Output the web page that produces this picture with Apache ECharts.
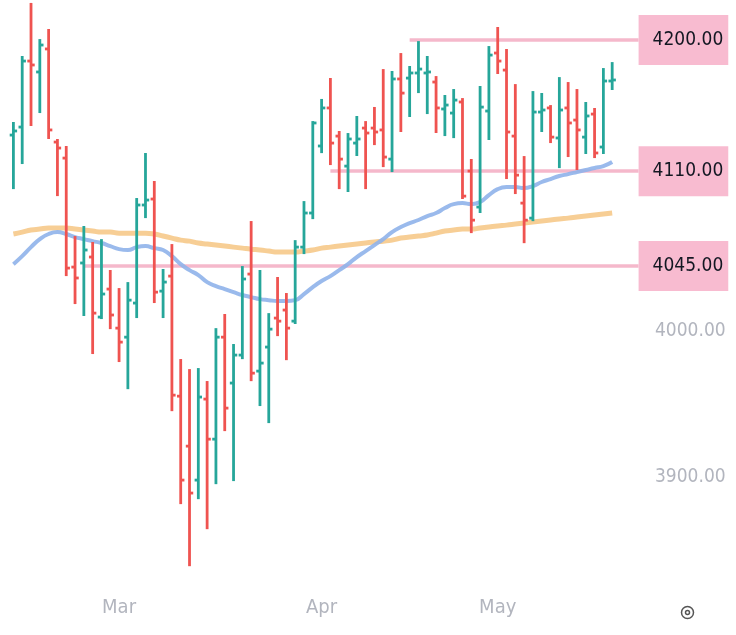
<!DOCTYPE html>
<html>
<head>
<meta charset="utf-8">
<script src="https://cdn.jsdelivr.net/npm/echarts@6/dist/echarts.min.js"></script>
<style>
  html, body { margin: 0; padding: 0; background: #fff; }
  #chart { width: 736px; height: 635px; }
</style>
</head>
<body>
<div id="chart"></div>
<script>
// trading days (last three are empty space on the right)
var dates = [
    '2023-02-10', '2023-02-13', '2023-02-14', '2023-02-15', '2023-02-16', '2023-02-17',
    '2023-02-21', '2023-02-22', '2023-02-23', '2023-02-24', '2023-02-27', '2023-02-28',
    '2023-03-01', '2023-03-02', '2023-03-03', '2023-03-06', '2023-03-07', '2023-03-08',
    '2023-03-09', '2023-03-10', '2023-03-13', '2023-03-14', '2023-03-15', '2023-03-16',
    '2023-03-17', '2023-03-20', '2023-03-21', '2023-03-22', '2023-03-23', '2023-03-24',
    '2023-03-27', '2023-03-28', '2023-03-29', '2023-03-30', '2023-03-31',
    '2023-04-03', '2023-04-04', '2023-04-05', '2023-04-06', '2023-04-07', '2023-04-10',
    '2023-04-11', '2023-04-12', '2023-04-13', '2023-04-14', '2023-04-17', '2023-04-18',
    '2023-04-19', '2023-04-20', '2023-04-21', '2023-04-24', '2023-04-25', '2023-04-26',
    '2023-04-27', '2023-04-28',
    '2023-05-01', '2023-05-02', '2023-05-03', '2023-05-04', '2023-05-05', '2023-05-08',
    '2023-05-09', '2023-05-10', '2023-05-11', '2023-05-12', '2023-05-15', '2023-05-16',
    '2023-05-17', '2023-05-18',
    '2023-05-19', '2023-05-22', '2023-05-23'
];

var opens = [
    4134.8, 4140.3, 4185.6, 4178.1, 4193.9, 4130.0, 4119.0, 4044.2, 4047.0, 4051.1,
    4009.9, 4029.1, 4002.3, 3996.1, 4019.5, 4086.8, 4090.9, 4027.7, 4038.0, 3955.6,
    3921.3, 3898.0, 3953.6, 3926.1, 3996.1, 3964.6, 3983.8, 4039.4, 3972.8, 3989.3,
    4009.2, 4014.7, 4007.1, 4057.9, 4081.3, 4127.3, 4153.4, 4134.1, 4113.5, 4129.3,
    4139.6, 4139.6, 4138.3, 4118.3, 4173.3, 4173.9, 4177.4, 4177.4, 4171.2, 4152.7,
    4149.9, 4157.5, 4110.1, 4085.4, 4151.3, 4191.1, 4179.4, 4134.1, 4088.1, 4077.8,
    4150.6, 4153.4, 4132.8, 4153.4, 4145.1, 4133.4, 4149.2, 4126.6, 4171.9
];
var closes = [
    4137.6, 4185.6, 4182.9, 4196.6, 4138.3, 4125.9, 4043.5, 4036.7, 4055.9, 4012.6,
    4025.7, 4011.3, 3992.7, 4021.5, 4086.8, 4090.2, 4027.0, 4033.9, 3956.3, 3898.0,
    3889.1, 3955.0, 3926.1, 3996.1, 3947.4, 3983.8, 4036.0, 3971.4, 3978.3, 4001.6,
    4007.1, 4002.3, 4057.9, 4081.3, 4143.1, 4153.4, 4129.3, 4118.3, 4132.1, 4132.1,
    4136.2, 4136.9, 4119.7, 4173.3, 4163.6, 4177.4, 4180.1, 4178.1, 4153.4, 4155.4,
    4158.8, 4092.9, 4076.4, 4154.0, 4189.7, 4185.6, 4136.9, 4107.3, 4076.4, 4150.6,
    4152.0, 4133.4, 4152.0, 4143.1, 4138.3, 4147.9, 4122.5, 4171.9, 4172.6
];
var lows = [
    4098.4, 4115.6, 4141.7, 4150.6, 4132.8, 4093.6, 4038.7, 4019.5, 4011.3, 3985.2,
    4009.2, 4002.3, 3979.7, 3961.1, 4009.9, 4078.5, 4020.2, 4009.9, 3946.0, 3882.2,
    3839.6, 3885.6, 3865.0, 3895.9, 3932.3, 3898.0, 3981.7, 3966.6, 3949.5, 3937.8,
    3997.5, 3981.0, 4005.8, 4053.8, 4077.8, 4123.1, 4114.9, 4098.4, 4096.4, 4121.1,
    4098.4, 4128.6, 4113.5, 4110.1, 4137.6, 4147.9, 4164.3, 4149.9, 4136.9, 4134.8,
    4133.4, 4091.6, 4068.2, 4082.0, 4132.1, 4177.4, 4105.3, 4095.0, 4061.3, 4076.4,
    4137.6, 4130.0, 4112.8, 4120.4, 4111.5, 4122.5, 4119.7, 4122.5, 4166.4
];
var highs = [
    4143.1, 4188.4, 4224.8, 4200.0, 4206.9, 4131.4, 4126.6, 4064.8, 4071.7, 4060.7,
    4062.7, 4041.5, 4029.1, 4033.2, 4090.9, 4121.8, 4102.6, 4042.2, 4059.3, 3980.4,
    3973.5, 3974.2, 3965.3, 4001.6, 4011.3, 3990.7, 4044.2, 4075.1, 4041.5, 4011.9,
    4036.7, 4025.7, 4062.0, 4088.8, 4143.7, 4158.9, 4173.3, 4136.9, 4135.5, 4147.2,
    4143.7, 4153.4, 4179.4, 4178.1, 4190.4, 4181.5, 4198.6, 4188.4, 4174.6, 4161.6,
    4165.7, 4159.5, 4117.7, 4167.8, 4195.2, 4208.3, 4193.2, 4169.1, 4119.7, 4164.3,
    4163.0, 4154.7, 4173.9, 4170.5, 4165.7, 4156.8, 4152.7, 4180.1, 4184.2
];

// moving averages as drawn on the chart
var maFast = [
    4046.2, 4051.7, 4057.9, 4063.4, 4066.9, 4068.2, 4066.9, 4064.8, 4063.4, 4062.0,
    4060.7, 4058.6, 4056.5, 4055.9, 4057.9, 4058.6, 4057.2, 4055.9, 4051.7, 4046.2,
    4042.1, 4038.7, 4033.9, 4031.1, 4029.1, 4027.0, 4025.0, 4023.6, 4022.2, 4021.5,
    4020.9, 4020.9, 4021.5, 4025.7, 4030.4, 4034.6, 4038.0, 4042.1, 4046.2, 4051.1,
    4055.2, 4059.3, 4063.4, 4068.2, 4071.7, 4074.4, 4076.5, 4079.2, 4081.3, 4084.7,
    4087.4, 4088.1, 4087.4, 4088.8, 4093.6, 4097.7, 4099.1, 4099.1, 4098.4, 4099.8,
    4102.6, 4104.6, 4106.7, 4108.0, 4109.4, 4110.8, 4112.2, 4113.5, 4116.3
];
var maSlow = [
    4066.9, 4068.2, 4069.6, 4070.3, 4071.0, 4071.0, 4071.0, 4070.3, 4069.6, 4068.9,
    4068.2, 4068.2, 4067.5, 4067.5, 4067.5, 4067.5, 4066.9, 4065.5, 4064.1, 4062.7,
    4062.0, 4060.7, 4060.0, 4059.3, 4058.6, 4057.9, 4057.2, 4056.5, 4055.9, 4055.2,
    4054.5, 4054.5, 4054.5, 4055.2, 4055.9, 4057.2, 4057.9, 4058.6, 4059.3, 4060.0,
    4060.7, 4061.4, 4062.0, 4062.7, 4064.1, 4064.8, 4065.5, 4066.2, 4067.5, 4068.9,
    4069.6, 4070.3, 4070.3, 4071.0, 4071.7, 4072.4, 4073.0, 4073.7, 4074.4, 4075.1,
    4075.8, 4076.5, 4077.2, 4077.8, 4078.5, 4079.2, 4079.9, 4080.6, 4081.3
];

// horizontal levels and the bar where each one starts
var levels = [4200, 4110, 4045];
var levelStart = [45, 36, 8];

var monthNames = ['Jan', 'Feb', 'Mar', 'Apr', 'May', 'Jun', 'Jul', 'Aug', 'Sep', 'Oct', 'Nov', 'Dec'];

var upColor = '#26a69a';
var downColor = '#ef5350';
var fontName = "'DejaVu Sans Condensed', 'Liberation Sans Narrow', sans-serif";

var ohlcData = [];
for (var i = 0; i < opens.length; i++) {
    ohlcData.push([i, opens[i], closes[i], lows[i], highs[i]]);
}

var levelLines = levels.map(function (v, k) {
    return [
        { name: v.toFixed(2), coord: [dates[levelStart[k]], v] },
        { coord: [dates[dates.length - 1], v] }
    ];
});

var chart = echarts.init(document.getElementById('chart'));

var option = {
    animation: false,
    backgroundColor: '#ffffff',
    grid: { left: 9, right: 93, top: 0, bottom: 50 },
    xAxis: {
        type: 'category',
        data: dates,
        boundaryGap: true,
        axisLine: { show: false },
        axisTick: { show: false },
        splitLine: { show: false },
        axisLabel: {
            color: '#b2b5be',
            fontSize: 20,
            fontFamily: fontName,
            margin: 13,
            interval: function (idx, value) {
                return idx > 0 && value.slice(5, 7) !== dates[idx - 1].slice(5, 7);
            },
            formatter: function (value) {
                return monthNames[parseInt(value.slice(5, 7), 10) - 1];
            }
        }
    },
    yAxis: {
        type: 'value',
        position: 'right',
        min: 3826,
        max: 4227.5,
        axisLine: { show: false },
        axisTick: { show: false },
        splitLine: { show: false },
        axisLabel: {
            color: '#b2b5be',
            fontSize: 19,
            fontFamily: fontName,
            margin: 12,
            showMinLabel: false,
            showMaxLabel: false,
            formatter: function (v) { return v.toFixed(2); }
        }
    },
    series: [
        {
            name: 'MA slow',
            type: 'line',
            data: maSlow,
            smooth: true,
            showSymbol: false,
            z: 2,
            lineStyle: { color: '#f6c98a', width: 5, opacity: 0.9 },
            markLine: {
                silent: true,
                symbol: 'none',
                z: 1,
                lineStyle: { color: '#f5b8cb', width: 3.5, type: 'solid' },
                label: {
                    show: true,
                    position: 'end',
                    distance: 0,
                    color: '#131722',
                    fontSize: 19,
                    fontFamily: fontName,
                    lineHeight: 22,
                    backgroundColor: '#f8bbd0',
                    padding: [14, 5, 14, 14],
                    formatter: '{b}'
                },
                data: levelLines
            }
        },
        {
            name: 'MA fast',
            type: 'line',
            data: maFast,
            smooth: true,
            showSymbol: false,
            z: 3,
            lineStyle: { color: '#8fb3ea', width: 4, opacity: 0.9 }
        },
        {
            name: 'OHLC',
            type: 'custom',
            z: 4,
            data: ohlcData,
            encode: { x: 0, y: [1, 2, 3, 4] },
            renderItem: function (params, api) {
                var idx = api.value(0);
                var o = api.coord([idx, api.value(1)]);
                var c = api.coord([idx, api.value(2)]);
                var l = api.coord([idx, api.value(3)]);
                var h = api.coord([idx, api.value(4)]);
                var half = api.size([1, 0])[0] * 0.42;
                var color = api.value(2) >= api.value(1) ? upColor : downColor;
                var st = { stroke: color, lineWidth: 2.8 };
                return {
                    type: 'group',
                    children: [
                        { type: 'line', shape: { x1: h[0], y1: h[1] - 1, x2: l[0], y2: l[1] + 1 }, style: st },
                        { type: 'line', shape: { x1: o[0] - half, y1: o[1], x2: o[0], y2: o[1] }, style: st },
                        { type: 'line', shape: { x1: c[0], y1: c[1], x2: c[0] + half, y2: c[1] }, style: st }
                    ]
                };
            }
        }
    ],
    graphic: [
        {
            type: 'group',
            left: 679,
            top: 604,
            children: [
                { type: 'circle', shape: { cx: 7, cy: 8, r: 6 }, style: { fill: 'none', stroke: '#555', lineWidth: 1.5 } },
                { type: 'circle', shape: { cx: 7, cy: 8, r: 2 }, style: { fill: 'none', stroke: '#555', lineWidth: 1.5 } }
            ]
        }
    ]
};

chart.setOption(option);
</script>
</body>
</html>
